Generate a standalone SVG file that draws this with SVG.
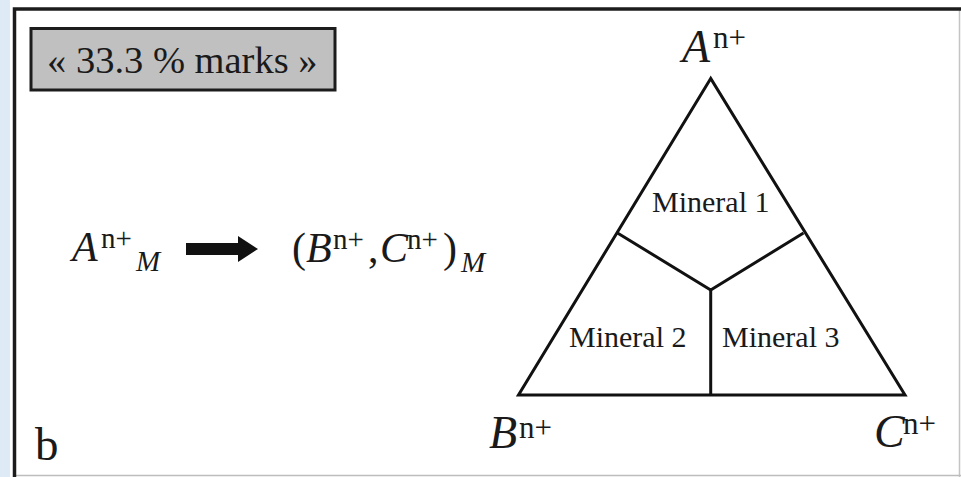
<svg xmlns="http://www.w3.org/2000/svg" width="961" height="477" viewBox="0 0 961 477">
<style>
  text { font-family: "Liberation Serif", "Times New Roman", serif; fill: #1a1a1a; }
  .it { font-style: italic; }
  .eq { font-size: 42px; }
  .sup { font-size: 29px; font-style: normal; }
  .vsup { font-size: 31px; font-style: normal; }
  .sub { font-size: 29px; font-style: italic; }
  .vx { font-size: 46px; }
  .min { font-size: 30px; }
  .ln { fill: none; stroke: #111; stroke-width: 3; stroke-linejoin: miter; stroke-linecap: butt; }
</style>
<rect x="0" y="0" width="961" height="477" fill="#ffffff"/>
<rect x="0" y="0" width="10" height="477" fill="#dfeaf7"/>
<g id="frame">
  <line x1="959.5" y1="9" x2="959.5" y2="477" stroke="#c4c4c4" stroke-width="1.5"/>
  <line x1="14" y1="475.5" x2="961" y2="475.5" stroke="#bdbdbd" stroke-width="1.5"/>
  <path d="M14.5,477 V9 H961" fill="none" stroke="#1c1c1c" stroke-width="3.5"/>
</g>
<g id="title">
  <rect x="31" y="28.5" width="304" height="61.5" fill="#c0c0c0" stroke="#1c1c1c" stroke-width="3"/>
  <text x="47" y="73" font-size="38.5">« 33.3 % marks »</text>
</g>
<g id="equation">
  <text x="72" y="261" class="eq it">A</text>
  <text x="101" y="248" class="sup">n+</text>
  <text x="136" y="271" class="sub">M</text>
  <text x="292" y="262" class="eq">(</text>
  <text x="306" y="262" class="eq it">B</text>
  <text x="333" y="249" class="sup">n+</text>
  <text x="368" y="262" class="eq">,</text>
  <text x="380" y="262" class="eq it">C</text>
  <text x="407" y="249" class="sup">n+</text>
  <text x="443" y="262" class="eq">)</text>
  <text x="461" y="272" class="sub">M</text>
</g>
<g id="connectors">
  <polygon points="186,243 238,243 238,236 258,249 238,262 238,255 186,255" fill="#111"/>
</g>
<g id="triangle">
  <polygon class="ln" points="710.7,78.5 518.5,395 905,395"/>
  <polyline class="ln" points="617.5,233 710.7,290 803.5,233"/>
  <line class="ln" x1="710.7" y1="290" x2="710.7" y2="395"/>
</g>
<g id="mineral1"><text x="652" y="212" class="min">Mineral 1</text></g>
<g id="mineral2"><text x="569" y="347" class="min">Mineral 2</text></g>
<g id="mineral3"><text x="722" y="347" class="min">Mineral 3</text></g>
<g id="vertexA">
  <text x="682" y="62" class="vx it">A</text>
  <text x="713" y="48" class="vsup">n+</text>
</g>
<g id="vertexB">
  <text x="489" y="448" class="vx it">B</text>
  <text x="519" y="438" class="vsup">n+</text>
</g>
<g id="vertexC">
  <text x="874" y="447" class="vx it">C</text>
  <text x="903" y="434" class="vsup">n+</text>
</g>
<g id="panel-label">
  <text x="35" y="460" font-size="47">b</text>
</g>
</svg>
